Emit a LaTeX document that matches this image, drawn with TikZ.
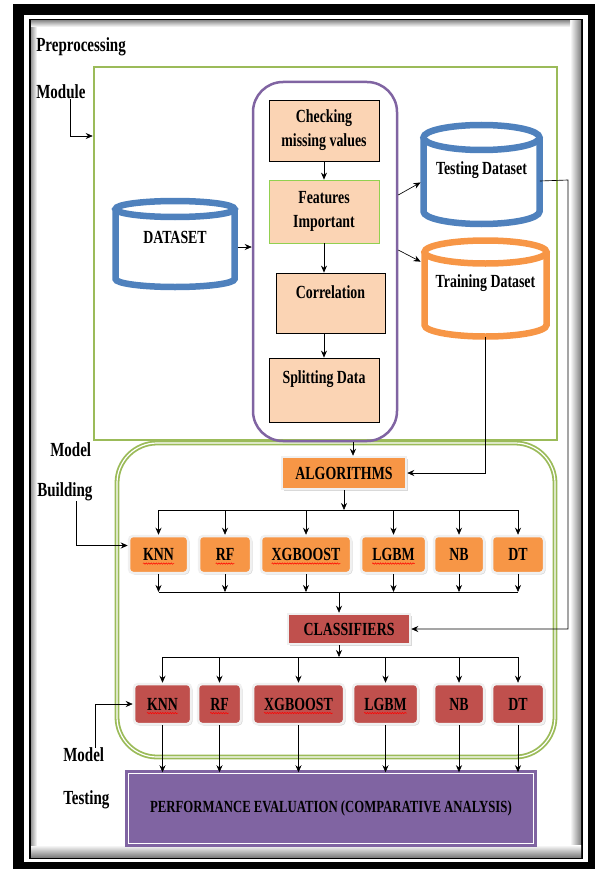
\documentclass[tikz,border=0pt]{standalone}
\usepackage{fontspec}
\setmainfont{Liberation Serif}[FakeStretch=0.75]
\usetikzlibrary{arrows.meta,shadows,decorations.pathmorphing}
\definecolor{pgreen}{RGB}{155,187,89}
\definecolor{lgreen}{RGB}{146,208,80}
\definecolor{ppurple}{RGB}{128,100,162}
\definecolor{dbblue}{RGB}{79,129,189}
\definecolor{dborange}{RGB}{247,150,70}
\definecolor{peach}{RGB}{251,212,180}
\definecolor{clsred}{RGB}{192,80,77}

\begin{document}
\begin{tikzpicture}[x=1pt, y=-1pt, line width=0.65pt, >={Stealth[length=7pt,width=6pt]},
    every node/.style={font=\bfseries\fontsize{18.5}{24}\selectfont, inner sep=0pt},
    side/.style={anchor=west, font=\bfseries\fontsize{20}{22}\selectfont},
    prebox/.style={draw, fill=peach, line width=0.8pt, minimum width=110pt, align=center},
    db/.style={line width=6.5pt},
    algbox/.style={fill=dborange, draw=black!6, line width=2.5pt, rounded corners=4pt,
        drop shadow={shadow xshift=1.5pt, shadow yshift=-1.5pt, opacity=0.3}},
    clsbox/.style={algbox, fill=clsred},
    spell/.style={red, line width=0.5pt, decorate, decoration={snake, amplitude=0.7pt, segment length=2.5pt}}]
        \useasboundingbox (0,0) rectangle (594,869);
        \draw[line width=11pt] (18,9.5) rectangle (593,867.5);
        \draw[line width=2pt] (30,20) rectangle (582,858);
        \shade[left color=white, right color=black!50] (570,21) rectangle (581,857);
        \shade[top color=white, bottom color=black!50] (31,845) rectangle (581,857);
        \shade[left color=black!40, right color=white] (31,21) rectangle (37,845);
        \shade[top color=black!40, bottom color=white] (31,21) rectangle (570,27);
        \draw (36,47) node(pp)[side]{Preprocessing};
        \draw (36,92) node(mod)[side]{Module};
        \draw (50,450) node(mbt)[side]{Model};
        \draw (37,492) node(bld)[side]{Building};
        \draw (63,755) node(mt)[side]{Model};
        \draw (63,800) node(tst2)[side]{Testing};
        \draw (325.5,253.5) node(pm)[draw=pgreen, line width=2.5pt, minimum width=463pt, minimum height=373pt]{};
        \draw (336,600) node(mb)[draw=pgreen, line width=1.8pt, double=white, double distance=1.2pt, rounded corners=40pt, minimum width=438pt, minimum height=314pt]{};
        \draw (325,261.5) node(pur)[draw=ppurple, line width=2.5pt, rounded corners=30pt, minimum width=144pt, minimum height=359pt]{};
        \draw (324,130.5) node(chk)[prebox, minimum height=61pt]{Checking\\missing values};
        \draw (324,211.5) node(fea)[prebox, draw=lgreen, minimum height=63pt]{Features\\Important};
        \draw (330.5,303) node(cor)[prebox, minimum width=109pt, minimum height=60pt, text height=12pt, text depth=22pt]{Correlation};
        \draw (324,390) node(spl)[prebox, minimum height=64pt, text height=12pt, text depth=26pt]{Splitting Data};
        \draw[->] (chk.south) -- (fea.north);
        \draw[->] (fea.south) -- (fea.south |- cor.north);
        \draw[->] (cor.south -| spl.north) -- (spl.north);
        \draw[dbblue, db] (115.5,209) -- (115.5,279) arc[start angle=180, end angle=0, x radius=59.5, y radius=8] -- (234.5,209);
        \draw[dbblue, db] (175,209) ellipse [x radius=59.5, y radius=8];
        \draw (175,247) node(ds)[minimum width=119pt, minimum height=76pt, text height=12pt, text depth=20pt]{DATASET};
        \draw[dbblue, db] (423.5,137.5) -- (423.5,211.5) arc[start angle=180, end angle=0, x radius=58, y radius=12.5] -- (539.5,137.5);
        \draw[dbblue, db] (481.5,137.5) ellipse [x radius=58, y radius=12.5];
        \draw (481.5,181) node(tst)[minimum width=116pt, minimum height=86pt, text height=12pt, text depth=24pt]{Testing Dataset};
        \draw[dborange, db] (424.5,252) -- (424.5,325) arc[start angle=180, end angle=0, x radius=61, y radius=11.5] -- (546.5,252);
        \draw[dborange, db] (485.5,252) ellipse [x radius=61, y radius=11.5];
        \draw (485.5,288.5) node(trn)[minimum width=122pt, minimum height=96pt, text height=12pt, text depth=15pt]{Training Dataset};
        \draw[->, shorten <=3pt] (ds.east) -- (ds.east -| pur.west);
        \draw[->, shorten >=3pt] ([yshift=66.5pt]pur.east) -- (tst.west);
        \draw[->, shorten >=4pt] ([yshift=11.5pt]pur.east) -- ([yshift=25pt]trn.west);
        \draw (344,473) node(alg)[algbox, rounded corners=0pt, minimum width=124pt, minimum height=32pt]{ALGORITHMS};
        \draw (158.5,554.5) node(k1)[algbox, minimum width=59pt, minimum height=37pt]{KNN};
        \draw (225,554.5) node(r1)[algbox, minimum width=52pt, minimum height=37pt]{RF};
        \draw (306,554.5) node(x1)[algbox, minimum width=90pt, minimum height=37pt]{XGBOOST};
        \draw (393.5,554.5) node(l1)[algbox, minimum width=65pt, minimum height=37pt]{LGBM};
        \draw (459,554.5) node(n1)[algbox, minimum width=50pt, minimum height=37pt]{NB};
        \draw (518,554.5) node(d1)[algbox, minimum width=52pt, minimum height=37pt]{DT};
        \draw (349,629) node(cls)[clsbox, rounded corners=0pt, minimum width=122pt, minimum height=30pt]{CLASSIFIERS};
        \draw (162.5,704) node(k2)[clsbox, minimum width=57pt, minimum height=40pt]{KNN};
        \draw (219.5,704) node(r2)[clsbox, minimum width=43pt, minimum height=40pt]{RF};
        \draw (298.5,704) node(x2)[clsbox, minimum width=91pt, minimum height=40pt]{XGBOOST};
        \draw (385.5,704) node(l2)[clsbox, minimum width=65pt, minimum height=40pt]{LGBM};
        \draw (459,704) node(n2)[clsbox, minimum width=50pt, minimum height=40pt]{NB};
        \draw (518,704) node(d2)[clsbox, minimum width=52pt, minimum height=40pt]{DT};
        \draw (331,808.5) node(pe)[fill=ppurple, draw=ppurple, line width=2.5pt, double=white, double distance=1.5pt, minimum width=405pt, minimum height=70pt, font=\bfseries\fontsize{17}{19}\selectfont]{PERFORMANCE EVALUATION (COMPARATIVE ANALYSIS)};
        \draw[spell] ([xshift=-15.5pt, yshift=-3pt]k1.base) -- ([xshift=15.5pt, yshift=-3pt]k1.base);
        \draw[spell] ([xshift=-9.3pt, yshift=-3pt]r1.base) -- ([xshift=9.3pt, yshift=-3pt]r1.base);
        \draw[spell] ([xshift=-34.4pt, yshift=-3pt]x1.base) -- ([xshift=34.4pt, yshift=-3pt]x1.base);
        \draw[spell] ([xshift=-21.3pt, yshift=-3pt]l1.base) -- ([xshift=21.3pt, yshift=-3pt]l1.base);
        \draw[spell] ([xshift=-15.5pt, yshift=-3pt]k2.base) -- ([xshift=15.5pt, yshift=-3pt]k2.base);
        \draw[spell] ([xshift=-9.3pt, yshift=-3pt]r2.base) -- ([xshift=9.3pt, yshift=-3pt]r2.base);
        \draw[spell] ([xshift=-34.4pt, yshift=-3pt]x2.base) -- ([xshift=34.4pt, yshift=-3pt]x2.base);
        \draw[spell] ([xshift=-21.3pt, yshift=-3pt]l2.base) -- ([xshift=21.3pt, yshift=-3pt]l2.base);
        \coordinate (a0) at ([xshift=9pt]alg.north);
        \coordinate (b1) at (0,510);
        \coordinate (b2) at (339,592);
        \coordinate (b3) at (0,657);
        \coordinate (rt) at (568,180);
        \draw[->] (a0 |- pur.south) -- (a0);
        \draw[->] (trn.south) |- (alg.east);
        \draw[->] (tst.east) -- (rt) |- (cls.east);
        \draw[->] (alg.south) -- (alg.south |- b1);
        \draw (k1.north |- b1) -- (d1.north |- b1);
        \draw[->] (k1.north |- b1) -- (k1.north);
        \draw[->] (r1.north |- b1) -- (r1.north);
        \draw[->] (x1.north |- b1) -- (x1.north);
        \draw[->] (l1.north |- b1) -- (l1.north);
        \draw[->] (n1.north |- b1) -- (n1.north);
        \draw[->] (d1.north |- b1) -- (d1.north);
        \draw (k1.south |- b2) -- (d1.south |- b2);
        \draw[->] (k1.south) -- (k1.south |- b2);
        \draw[->] (r1.south) -- (r1.south |- b2);
        \draw[->] (x1.south) -- (x1.south |- b2);
        \draw[->] (l1.south) -- (l1.south |- b2);
        \draw[->] (n1.south) -- (n1.south |- b2);
        \draw[->] (d1.south) -- (d1.south |- b2);
        \draw[->] (b2) -- (b2 |- cls.north);
        \draw[->] (b2 |- cls.south) -- (b2 |- b3);
        \draw (k2.north |- b3) -- (d2.north |- b3);
        \draw[->] (k2.north |- b3) -- (k2.north);
        \draw[->] (r2.north |- b3) -- (r2.north);
        \draw[->] (x2.north |- b3) -- (x2.north);
        \draw[->] (l2.north |- b3) -- (l2.north);
        \draw[->] (n2.north |- b3) -- (n2.north);
        \draw[->] (d2.north |- b3) -- (d2.north);
        \draw[->] (k2.south) -- (k2.south |- pe.north);
        \draw[->] (r2.south) -- (r2.south |- pe.north);
        \draw[->] (x2.south) -- (x2.south |- pe.north);
        \draw[->] (l2.south) -- (l2.south |- pe.north);
        \draw[->] (n2.south) -- (n2.south |- pe.north);
        \draw[->] (d2.south) -- (d2.south |- pe.north);
        \draw[->] ([xshift=9pt]mod.south) |- ([yshift=117.5pt]pm.west);
        \draw[->] ([xshift=11pt]bld.south) |- ([yshift=9pt]k1.west);
        \draw[->] ([xshift=12pt]mt.north) |- (k2.west);
    \end{tikzpicture}
\end{document}
